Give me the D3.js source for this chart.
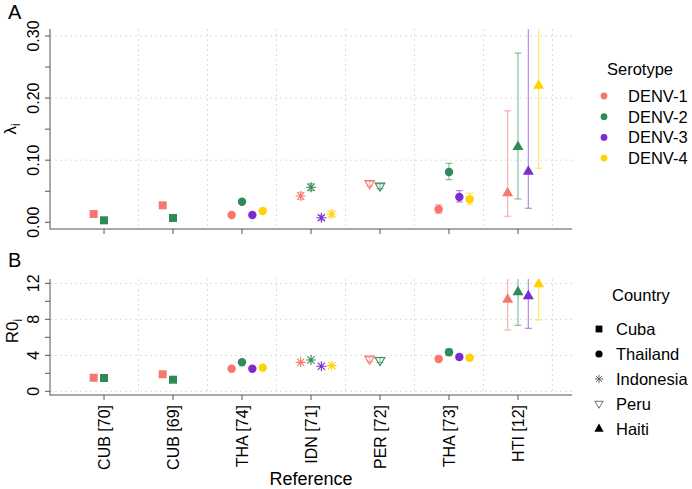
<!DOCTYPE html>
<html><head><meta charset="utf-8">
<script src="https://cdn.jsdelivr.net/npm/d3@7"></script>
<style>
body{margin:0;background:#fff;}
text{font-family:"Liberation Sans",Arial,sans-serif;fill:#000;}
</style></head>
<body><svg id="c" width="692" height="489"></svg>
<script>
const categories = ["CUB [70]","CUB [69]","THA [74]","IDN [71]","PER [72]","THA [73]","HTI [12]"];
const countryOfCategory = ["Cuba","Cuba","Thailand","Indonesia","Peru","Thailand","Haiti"];
const serotypes = ["DENV-1","DENV-2","DENV-3","DENV-4"];
const countries = ["Cuba","Thailand","Indonesia","Peru","Haiti"];
const serotypeColors = ["#F8766D","#2E8B57","#7B2BD0","#FFD200"];

// lambda_i (panel A)
const lambda1 = [0.0134,0.0274,0.0118,0.0424,0.062,0.021,0.047];
const lambda2 = [0.0032,0.0069,0.0332,0.0565,0.058,0.081,0.1215];
const lambda3 = [null,null,0.0118,0.0074,null,0.0408,0.0816];
const lambda4 = [null,null,0.0182,0.0134,null,0.037,0.22];
const lambdaLo1 = [null,null,null,0.037,0.058,0.0145,0.0097];
const lambdaHi1 = [null,null,null,0.048,0.066,0.0284,0.1795];
const lambdaLo2 = [null,null,null,0.051,0.054,0.0687,0.0376];
const lambdaHi2 = [null,null,null,0.062,0.062,0.095,0.2725];
const lambdaLo3 = [null,null,null,0.004,null,0.0327,0.0226];
const lambdaHi3 = [null,null,null,0.011,null,0.051,0.40];
const lambdaLo4 = [null,null,null,0.009,null,0.029,0.087];
const lambdaHi4 = [null,null,null,0.018,null,0.0468,0.45];

// R0_i (panel B)
const r0_1 = [1.51,1.89,2.51,3.22,3.55,3.59,10.2];
const r0_2 = [1.48,1.29,3.22,3.48,3.4,4.33,11.03];
const r0_3 = [null,null,2.51,2.78,null,3.81,10.59];
const r0_4 = [null,null,2.63,2.85,null,3.73,11.92];
const r0Lo1 = [null,null,null,null,3.3,3.4,6.8];
const r0Hi1 = [null,null,null,null,3.8,3.8,14];
const r0Lo2 = [null,null,null,null,3.2,4.0,7.33];
const r0Hi2 = [null,null,null,null,3.75,4.7,15];
const r0Lo3 = [null,null,null,null,null,3.6,7.0];
const r0Hi3 = [null,null,null,null,null,4.05,15];
const r0Lo4 = [null,null,null,null,null,3.5,7.92];
const r0Hi4 = [null,null,null,null,null,3.95,16];

const lambdaTicks = [0,0.05,0.1,0.15,0.2,0.25,0.3];
const lambdaLabels = ["0.00","0.10","0.20","0.30"];
const r0Ticks = [0,2,4,6,8,10,12];
const r0Labels = ["0","4","8","12"];

const svg = d3.select("#c");
const X0 = 50, X1 = 572;
const x = d3.scalePoint().domain(categories).range([X0, X1]).padding(0.783);
const step = x.step();
const dodge = k => (k - 1) * 0.15 * step;

function build(vals, los, his){
  const out = [];
  serotypes.forEach((s,k)=>{
    vals[k].forEach((v,i)=>{
      if (v==null) return;
      out.push({s, k, cat: categories[i], country: countryOfCategory[i], v, lo: los[k][i], hi: his[k][i]});
    });
  });
  return out;
}
const dataA = build([lambda1,lambda2,lambda3,lambda4],[lambdaLo1,lambdaLo2,lambdaLo3,lambdaLo4],[lambdaHi1,lambdaHi2,lambdaHi3,lambdaHi4]);
const dataB = build([r0_1,r0_2,r0_3,r0_4],[r0Lo1,r0Lo2,r0Lo3,r0Lo4],[r0Hi1,r0Hi2,r0Hi3,r0Hi4]);

function shapePath(country){
  if (country==="Cuba") return d3.symbol(d3.symbolSquare, 64)();
  if (country==="Thailand") return d3.symbol(d3.symbolCircle, 56)();
  if (country==="Haiti") return d3.symbol(d3.symbolTriangle, 52)();
  if (country==="Indonesia"){ const r=5, a=3.6; return `M${-r},0L${r},0M0,${-r}L0,${r}M${-a},${-a}L${a},${a}M${-a},${a}L${a},${-a}`; }
  if (country==="Peru"){ return "M-4.8,-3.2L4.8,-3.2L0,5Z"; }
}
function filled(country){ return country==="Cuba"||country==="Thailand"||country==="Haiti"; }

function panel(id, data, yDomain, yTop, yBot, ticks, labelVals, labels, showX, gridZero){
  const y = d3.scaleLinear().domain(yDomain).range([yBot, yTop]);
  const g = svg.append("g");
  const clipId = "clip"+id;
  svg.append("clipPath").attr("id",clipId).append("rect").attr("x",X0).attr("y",yTop).attr("width",X1-X0).attr("height",yBot-yTop);
  // grid
  const grid = g.append("g").attr("stroke","#dcdcdc").attr("stroke-dasharray","2,3").attr("stroke-width",1);
  labelVals.forEach(v=>{ if(v===0 && !gridZero) return; grid.append("line").attr("x1",X0).attr("x2",X1).attr("y1",y(v)).attr("y2",y(v)); });
  categories.forEach(c=>{ const gx = x(c)+step/2; grid.append("line").attr("x1",gx).attr("x2",gx).attr("y1",yTop).attr("y2",yBot); });
  // axes
  const ax = g.append("g").attr("stroke","#555").attr("stroke-width",1);
  ax.append("line").attr("x1",X0).attr("x2",X0).attr("y1",yTop).attr("y2",yBot+0.5);
  ax.append("line").attr("x1",X0).attr("x2",X1).attr("y1",yBot).attr("y2",yBot);
  ticks.forEach(v=>{ ax.append("line").attr("x1",X0-5).attr("x2",X0).attr("y1",y(v)).attr("y2",y(v)); });
  categories.forEach(c=>{ ax.append("line").attr("x1",x(c)).attr("x2",x(c)).attr("y1",yBot).attr("y2",yBot+5); });
  labelVals.forEach((v,i)=>{
    g.append("text").attr("transform",`translate(39,${y(v)}) rotate(-90)`).attr("text-anchor","middle")
      .attr("font-size","16px").text(labels[i]);
  });
  if (showX){
    categories.forEach(c=>{
      g.append("text").attr("transform",`translate(${x(c)},${yBot+10}) rotate(-90)`).attr("text-anchor","end")
        .attr("dy","0.36em").attr("font-size","16px").text(c);
    });
  }
  // marks
  const m = g.append("g").attr("clip-path",`url(#${clipId})`);
  const eb = data.filter(d=>d.lo!=null);
  eb.forEach(d=>{
    const cx = x(d.cat)+dodge(d.k), col = serotypeColors[d.k];
    const e = m.append("g").attr("stroke",col).attr("stroke-opacity",0.55).attr("stroke-width",1.2);
    e.append("line").attr("x1",cx).attr("x2",cx).attr("y1",y(d.lo)).attr("y2",y(d.hi));
    e.append("line").attr("x1",cx-3.5).attr("x2",cx+3.5).attr("y1",y(d.lo)).attr("y2",y(d.lo));
    e.append("line").attr("x1",cx-3.5).attr("x2",cx+3.5).attr("y1",y(d.hi)).attr("y2",y(d.hi));
  });
  data.forEach(d=>{
    const cx = x(d.cat)+dodge(d.k), col = serotypeColors[d.k];
    const p = m.append("path").attr("d",shapePath(d.country)).attr("transform",`translate(${cx},${y(d.v)})`);
    if (filled(d.country)) p.attr("fill",col).attr("stroke","none");
    else p.attr("fill","none").attr("stroke",col).attr("stroke-width",1.1);
  });
  return y;
}

panel("A", dataA, [-0.0108,0.3113], 29, 229, lambdaTicks, [0,0.1,0.2,0.3], lambdaLabels, false, false);
panel("B", dataB, [-0.41,12.48], 279, 395, r0Ticks, [0,4,8,12], r0Labels, true, true);

// panel letters
svg.append("text").attr("x",8).attr("y",19).attr("font-size","20px").text("A");
svg.append("text").attr("x",8).attr("y",267).attr("font-size","20px").text("B");

// y titles
const yt1 = svg.append("text").attr("transform","translate(16,129) rotate(-90)").attr("text-anchor","middle").attr("font-size","17px");
yt1.append("tspan").text("λ");
yt1.append("tspan").attr("font-size","12px").attr("dy","4").text("i");
const yt2 = svg.append("text").attr("transform","translate(18,331) rotate(-90)").attr("text-anchor","middle").attr("font-size","17px");
yt2.append("tspan").text("R0");
yt2.append("tspan").attr("font-size","12px").attr("dy","4").text("i");

// x title
svg.append("text").attr("x",311).attr("y",485).attr("text-anchor","middle").attr("font-size","18px").text("Reference");

// Serotype legend
svg.append("text").attr("x",607).attr("y",75).attr("font-size","16.5px").text("Serotype");
serotypes.forEach((s,k)=>{
  const yy = 96 + k*20.7;
  svg.append("circle").attr("cx",604).attr("cy",yy).attr("r",3.4).attr("fill",serotypeColors[k]);
  svg.append("text").attr("x",628).attr("y",yy).attr("dy","0.36em").attr("font-size","16.5px").text(s);
});

// Country legend
svg.append("text").attr("x",612).attr("y",301).attr("font-size","16.5px").text("Country");
countries.forEach((c,i)=>{
  const yy = 329 + i*25;
  const p = svg.append("path").attr("transform",`translate(599,${yy}) scale(0.85)`).attr("d",shapePath(c));
  if (filled(c)) p.attr("fill","#000"); else p.attr("fill","none").attr("stroke","#555").attr("stroke-width",1);
  svg.append("text").attr("x",616).attr("y",yy).attr("dy","0.36em").attr("font-size","16.5px").text(c);
});
</script></body></html>
